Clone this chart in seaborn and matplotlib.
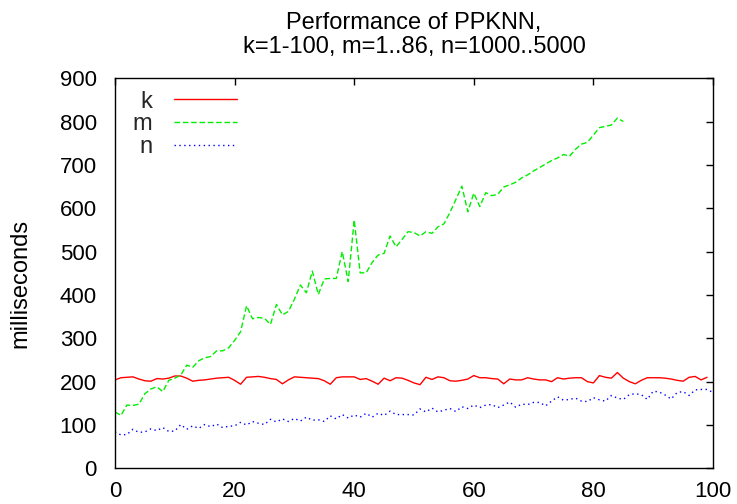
import numpy as np
import pandas as pd
import matplotlib
matplotlib.use("Agg")
import matplotlib.pyplot as plt
import seaborn as sns

# ---- data ----
k_vals = [204, 209, 210, 211, 206, 202, 201, 207, 206, 208,
          213, 213, 208, 201, 203, 204, 206, 208, 209, 210,
          203, 194, 210, 211, 212, 210, 207, 205, 195, 204,
          211, 210, 209, 208, 207, 202, 194, 209, 211, 211,
          211, 205, 207, 201, 194, 208, 202, 209, 208, 203,
          197, 193, 210, 205, 211, 209, 202, 201, 203, 206,
          214, 209, 209, 207, 206, 195, 206, 204, 204, 209,
          206, 204, 204, 200, 209, 206, 208, 209, 209, 200,
          197, 214, 210, 208, 221, 208, 200, 195, 203, 209,
          209, 209, 208, 206, 203, 201, 210, 212, 204, 210]

m_vals = [130, 122, 146, 145, 148, 172, 183, 188, 177, 203,
          208, 215, 238, 233, 248, 255, 258, 271, 271, 278,
          295, 315, 375, 345, 348, 346, 332, 378, 354, 362,
          390, 423, 405, 455, 401, 437, 438, 438, 500, 431,
          573, 451, 451, 475, 492, 496, 536, 511, 528, 546,
          544, 536, 546, 542, 557, 564, 590, 620, 651, 592,
          635, 604, 636, 629, 632, 649, 654, 660, 670, 677,
          686, 694, 702, 710, 716, 724, 720, 736, 748, 752,
          769, 786, 789, 792, 808, 800]

n_vals = [84, 77, 78, 90, 83, 84, 91, 87, 94, 85,
          86, 101, 90, 98, 92, 101, 96, 102, 94, 97,
          98, 106, 100, 108, 104, 101, 113, 107, 114, 108,
          115, 109, 118, 111, 112, 108, 121, 114, 124, 116,
          123, 118, 127, 118, 127, 122, 132, 124, 124, 124,
          123, 137, 130, 139, 130, 134, 138, 131, 142, 138,
          146, 140, 146, 147, 140, 146, 153, 141, 148, 147,
          152, 152, 144, 155, 165, 157, 159, 162, 155, 154,
          163, 158, 155, 168, 162, 159, 170, 172, 170, 159,
          178, 176, 169, 160, 175, 177, 168, 181, 182, 182, 175]

series_names = ["k", "m", "n"]
x_ticks = [0, 20, 40, 60, 80, 100]
y_ticks = [0, 100, 200, 300, 400, 500, 600, 700, 800, 900]
title_text = "Performance of PPKNN,\nk=1-100, m=1..86, n=1000..5000"
y_label = "milliseconds"

df = pd.concat([
    pd.DataFrame({"x": np.arange(len(k_vals)), "ms": k_vals, "series": "k"}),
    pd.DataFrame({"x": np.arange(len(m_vals)), "ms": m_vals, "series": "m"}),
    pd.DataFrame({"x": np.arange(len(n_vals)), "ms": n_vals, "series": "n"}),
], ignore_index=True)

# ---- style ----
sns.set_theme(style="white")
plt.rcParams["font.family"] = ["Liberation Sans", "DejaVu Sans"]

fig = plt.figure(figsize=(7.37, 5.04), dpi=100)
ax = fig.add_axes([0.156, 0.0708, 0.8115, 0.774])

colors = {"k": "#ff0000", "m": "#00ee00", "n": "#0000ff"}
dashes = {"k": "", "m": (4, 2), "n": (1, 2.5)}

for name in series_names:
    sub = df[df["series"] == name]
    sns.lineplot(data=sub, x="x", y="ms", ax=ax, color=colors[name],
                 linewidth=1.0, label=name, estimator=None)
    l = ax.get_lines()[-1]
    if dashes[name]:
        l.set_dashes(dashes[name])

ax.set_xlim(0, 100)
ax.set_ylim(0, 900)
ax.set_xticks(x_ticks)
ax.set_yticks(y_ticks)
ax.tick_params(direction="in", length=5, width=1, color="black",
               top=True, right=True, labelsize=16, labelcolor="black")
ax.tick_params(axis="y", pad=13)
ax.tick_params(axis="x", pad=9)
for s in ax.spines.values():
    s.set_visible(True)
    s.set_color("black")
    s.set_linewidth(1.0)

ax.set_xlabel("")
ax.set_ylabel(y_label, fontsize=17, color="black")
ax.yaxis.set_label_coords(-0.139, 0.475)
ax.set_title(title_text, fontsize=17, color="black", pad=18, linespacing=1.12)

leg = ax.legend(loc="upper left", bbox_to_anchor=(0.03, 0.968), frameon=False,
                markerfirst=False, handlelength=2.63, labelspacing=0.03,
                fontsize=17, handletextpad=0.93, borderpad=0, borderaxespad=0)

fig.savefig("out.png", dpi=100)
